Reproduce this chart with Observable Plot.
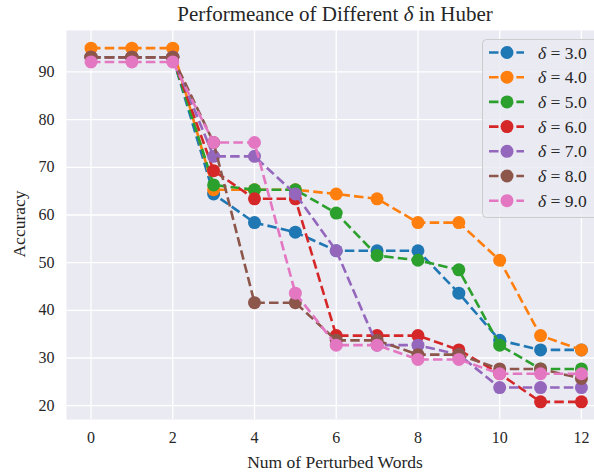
<!DOCTYPE html>
<html><head><meta charset="utf-8">
<script src="https://cdn.jsdelivr.net/npm/d3@7"></script>
<script src="https://cdn.jsdelivr.net/npm/@observablehq/plot@0.6"></script>
<style>
body{margin:0;background:#fff;}
svg, svg text{font-family:"Liberation Serif","Times New Roman",serif !important;}
</style>
</head><body><div id="chart"></div>
<script>
const words = [0,1,2,3,4,5,6,7,8,9,10,11,12];
const xTicks = [0,2,4,6,8,10,12];
const yTicks = [20,30,40,50,60,70,80,90];
const deltas = ["3.0","4.0","5.0","6.0","7.0","8.0","9.0"];
const colors = ["#1f77b4","#ff7f0e","#2ca02c","#d62728","#9467bd","#8c564b","#e377c2"];
const acc30 = [93.1,93.1,93.1,64.4,58.4,56.4,52.5,52.5,52.5,43.6,33.7,31.7,31.7];
const acc40 = [95.0,95.0,95.0,65.3,65.3,65.3,64.4,63.4,58.4,58.4,50.5,34.7,31.7];
const acc50 = [93.1,93.1,93.1,66.3,65.3,65.3,60.4,51.5,50.5,48.5,32.7,27.7,27.7];
const acc60 = [93.1,93.1,93.1,69.3,63.4,63.4,34.7,34.7,34.7,31.7,26.7,20.8,20.8];
const acc70 = [93.1,93.1,93.1,72.3,72.3,64.4,52.5,32.7,32.7,30.7,23.8,23.8,23.8];
const acc80 = [93.1,93.1,93.1,75.2,41.6,41.6,33.7,33.7,30.7,30.7,27.7,27.7,25.7];
const acc90 = [92.1,92.1,92.1,75.2,75.2,43.6,32.7,32.7,29.7,29.7,26.7,26.7,26.7];
const seriesVals = [acc30,acc40,acc50,acc60,acc70,acc80,acc90];

const seriesData = seriesVals.map((vals,i)=>words.map((w,j)=>({x:w,y:vals[j],delta:deltas[i]})));
const FF = "Liberation Serif, serif";

const marks = [
  Plot.frame({fill:"#eaeaf2", stroke:"none"}),
  Plot.gridX(xTicks,{stroke:"#fff", strokeOpacity:1, strokeWidth:1.3}),
  Plot.gridY(yTicks,{stroke:"#fff", strokeOpacity:1, strokeWidth:1.3}),
  Plot.axisX(xTicks,{tickSize:0, tickPadding:12, fontSize:16, fontFamily:FF, fill:"#262626", label:null}),
  Plot.axisY(yTicks,{tickSize:0, tickPadding:12, fontSize:16, fontFamily:FF, fill:"#262626", label:null})
];
seriesData.forEach((d,i)=>{
  marks.push(Plot.line(d,{x:"x",y:"y",stroke:colors[i],strokeWidth:2.6,strokeDasharray:"9.5,4.2",strokeLinecap:"butt"}));
  marks.push(Plot.dot(d,{x:"x",y:"y",fill:colors[i],r:6.5,stroke:"none"}));
});

const chart = Plot.plot({
  width:594, height:475,
  marginTop:30, marginBottom:56, marginLeft:66, marginRight:0,
  style:{fontFamily:"'Liberation Serif', serif", fontSize:"16px", background:"#fff", color:"#262626"},
  x:{domain:[-0.6,12.32]},
  y:{domain:[17.1,98.7]},
  marks
});
document.getElementById("chart").appendChild(chart);

const svg = d3.select(chart);
// title
const t = svg.append("text").attr("x",335).attr("y",21).attr("text-anchor","middle")
  .attr("font-size",21).attr("fill","#262626").attr("font-family",FF);
t.append("tspan").text("Performeance of Different ");
t.append("tspan").attr("font-style","italic").text("δ");
t.append("tspan").text(" in Huber");
// axis labels
svg.append("text").attr("x",335).attr("y",468).attr("text-anchor","middle").attr("font-family",FF)
  .attr("font-size",17.5).attr("fill","#262626").text("Num of Perturbed Words");
svg.append("text").attr("transform","translate(25,224) rotate(-90)").attr("text-anchor","middle").attr("font-family",FF)
  .attr("font-size",17.5).attr("fill","#262626").text("Accuracy");
// legend
const lg = svg.append("g");
lg.append("rect").attr("x",482.5).attr("y",39.5).attr("width",130).attr("height",178).attr("rx",4)
  .attr("fill","#eaeaf2").attr("fill-opacity",0.8).attr("stroke","#cccccc").attr("stroke-width",1);
deltas.forEach((dl,i)=>{
  const yy = 52.5 + i*24.7;
  lg.append("line").attr("x1",489).attr("x2",524).attr("y1",yy).attr("y2",yy)
    .attr("stroke",colors[i]).attr("stroke-width",2.6).attr("stroke-dasharray","9.5,4.2");
  lg.append("circle").attr("cx",507).attr("cy",yy).attr("r",6.5).attr("fill",colors[i]);
  const tx = lg.append("text").attr("x",538).attr("y",yy+6).attr("text-anchor","start")
    .attr("font-size",17.5).attr("fill","#262626").attr("font-family",FF);
  tx.append("tspan").attr("font-style","italic").text("δ");
  tx.append("tspan").text(" = " + dl);
});
</script>
</body></html>
